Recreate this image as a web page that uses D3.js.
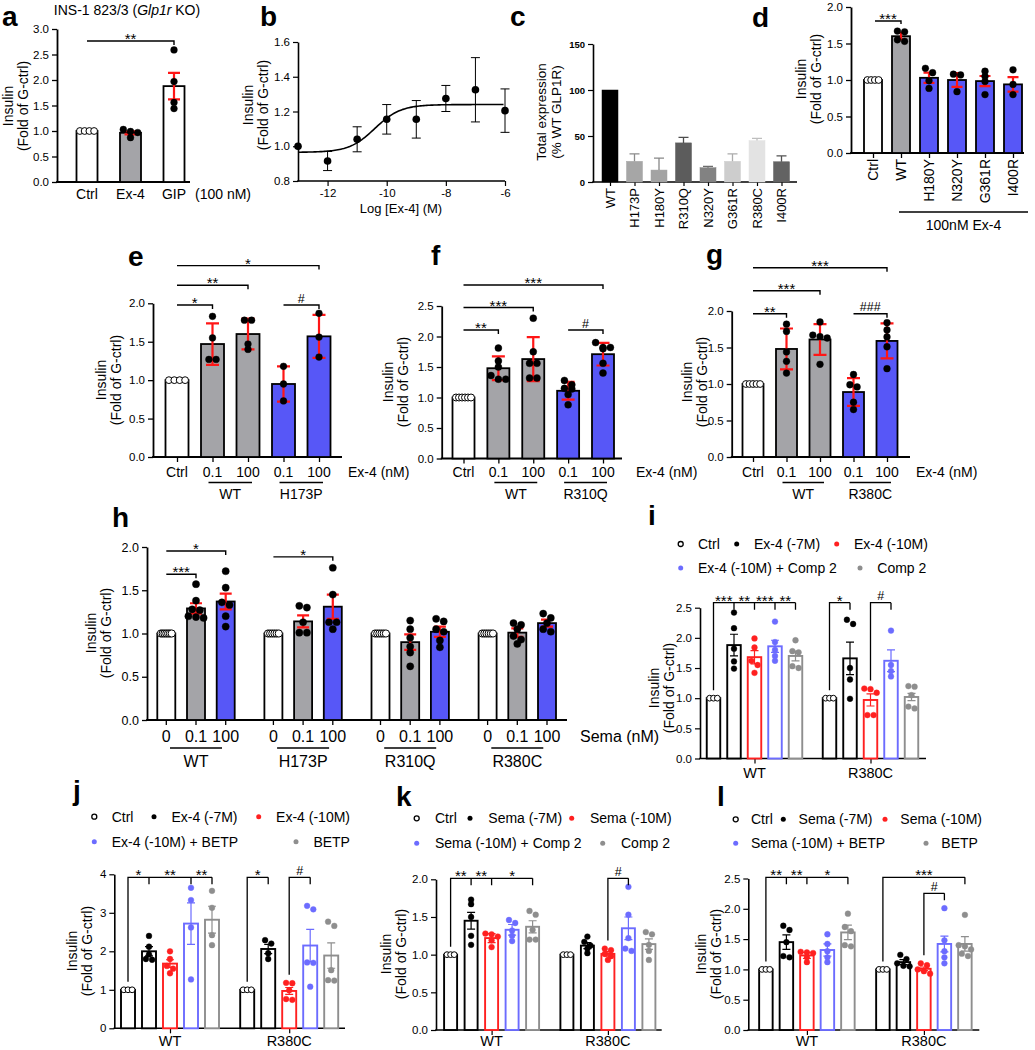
<!DOCTYPE html>
<html><head><meta charset="utf-8">
<script src="https://cdn.jsdelivr.net/npm/d3@7"></script>
<style>body{margin:0;background:#fff}</style>
</head><body><div id="chart"></div>
<script>
// ================= DATA =================
// a
const aCategories=["Ctrl","Ex-4","GIP"];
const aMeans=[1.0,0.965,1.88];
const aErr=[0,0.03,0.26];
const aPoints=[[1,1,1,1],[1.03,0.99,0.97,0.87],[2.59,1.97,1.56,1.44]];
const aSig=[[0,2,"**"]];
// b
const bLogDose=[-13,-12,-11,-10,-9,-8,-7,-6];
const bMeans=[1.0,0.915,1.04,1.155,1.155,1.275,1.325,1.205];
const bErr=[0,0.055,0.072,0.085,0.108,0.075,0.185,0.125];
const bFitBottom=0.965, bFitTop=1.24, bFitLogEC50=-10.4, bFitHill=1.0;
const bYTicks=[0.8,1.0,1.2,1.4,1.6];
const bXTicks=[-12,-10,-8,-6];
// c
const cCategories=["WT","H173P","H180Y","R310Q","N320Y","G361R","R380C","I400R"];
const cMeans=[100,22.5,13,42.5,15.5,22.5,45,22];
const cErr=[0,8,13,6,1.5,8,2.5,6.5];
const cYTicks=[0,50,100,150];
// d
const dCategories=["Ctrl","WT","H180Y","N320Y","G361R","I400R"];
const dMeans=[1.0,1.60,1.03,1.0,0.985,0.94];
const dErr=[0,0.045,0.07,0.095,0.07,0.1];
const dPoints=[[1,1,1,1],[1.67,1.66,1.55,1.53],[1.16,1.10,0.99,0.885],[1.08,1.07,0.84],[1.12,1.05,0.98,0.80],[1.14,0.94,0.80]];
const dSig=[[0,1,"***"]];
// e
const eLabels=["Ctrl","0.1","100","0.1","100"];
const eGroups=["WT","H173P"];
const eMeans=[1.0,1.47,1.60,0.95,1.57];
const eErr=[0,0.27,0.20,0.23,0.28];
const ePoints=[[1,1,1,1],[1.83,1.55,1.27,1.27],[1.78,1.78,1.47,1.40],[1.18,0.95,0.73],[1.87,1.56,1.30]];
const eSig=[[0,1,"*",0],[0,2,"**",1],[0,4,"*",2],[3,4,"#",0]];
// f
const fLabels=["Ctrl","0.1","100","0.1","100"];
const fGroups=["WT","R310Q"];
const fMeans=[1.0,1.48,1.63,1.11,1.71];
const fErr=[0,0.195,0.36,0.145,0.185];
const fPoints=[[1,1,1,1,1,1],[1.81,1.60,1.50,1.36,1.30,1.30],[2.30,1.75,1.56,1.56,1.32,1.32],[1.28,1.21,1.15,1.14,1.05,0.88],[1.90,1.82,1.82,1.80,1.56,1.40]];
const fSig=[[0,1,"**",0],[0,2,"***",1],[0,4,"***",2],[3,4,"#",0]];
// g
const gLabels=["Ctrl","0.1","100","0.1","100"];
const gGroups=["WT","R380C"];
const gMeans=[1.0,1.48,1.61,0.89,1.59];
const gErr=[0,0.28,0.21,0.19,0.24];
const gPoints=[[1,1,1,1,1],[1.82,1.72,1.44,1.31,1.15],[1.85,1.67,1.65,1.63,1.27],[1.13,0.99,0.96,0.75,0.65],[1.84,1.74,1.645,1.51,1.21]];
const gSig=[[0,1,"**",0],[0,2,"***",1],[0,4,"***",2],[3,4,"###",0]];
// h
const hGroups=["WT","H173P","R310Q","R380C"];
const hDoses=["0","0.1","100"];
const hMeans=[[1,1.29,1.37],[1,1.14,1.31],[1,0.90,1.02],[1,1.01,1.12]];
const hErr=[[0,0.06,0.09],[0,0.07,0.14],[0,0.09,0.06],[0,0.05,0.04]];
const hPoints=[
 [[1,1,1,1,1,1,1],[1.57,1.38,1.28,1.27,1.20,1.18,1.19],[1.72,1.53,1.36,1.33,1.20,1.08]],
 [[1,1,1,1,1,1],[1.32,1.30,1.13,1.01,1.01],[1.76,1.45,1.13,1.13,1.05]],
 [[1,1,1,1,1,1],[1.15,1.05,0.95,0.85,0.78,0.62],[1.17,1.14,1.05,1.02,0.92,0.84]],
 [[1,1,1,1,1,1],[1.12,1.10,1.05,0.97,0.93,0.88],[1.23,1.18,1.12,1.05,1.02]]];
const hSig=[[0,0,1,"***",0],[0,0,2,"*",1],[1,0,2,"*",0.75]];
// i
const iGroups=["WT","R380C"];
const iSeries=["Ctrl","Ex-4 (-7M)","Ex-4 (-10M)","Ex-4 (-10M) + Comp 2","Comp 2"];
const iMeans=[[1,1.88,1.68,1.86,1.70],[1,1.66,0.97,1.62,1.02]];
const iErr=[[0,0.18,0.11,0.10,0.08],[0,0.27,0.10,0.18,0.06]];
const iPoints=[
 [[1,1,1],[2.42,2.16,1.82,1.61,1.49],[1.99,1.84,1.62,1.55,1.42],[2.27,1.93,1.80,1.70,1.62],[1.96,1.78,1.76,1.53,1.50]],
 [[1,1,1],[2.30,2.23,1.50,1.31,0.99],[1.16,1.15,1.09,0.72,0.72],[2.12,1.55,1.45,1.36],[1.20,1.19,1.05,0.86,0.83]]];
const iSig=[[0,0,[1,2,3,4],["***","**","***","**"],0],[1,0,[1],["*"],0],[1,2,[3],["#"],0]];
// j
const jGroups=["WT","R380C"];
const jSeries=["Ctrl","Ex-4 (-7M)","Ex-4 (-10M)","Ex-4 (-10M) + BETP","BETP"];
const jMeans=[[1,2.0,1.68,2.72,2.82],[1,2.06,0.97,2.15,1.89]];
const jErr=[[0,0.12,0.10,0.54,0.35],[0,0.12,0.09,0.42,0.33]];
const jPoints=[
 [[1,1,1],[2.40,2.12,1.92,1.80,1.78],[2.0,1.80,1.62,1.55,1.43],[3.65,3.33,2.62,1.27],[3.57,3.13,2.42,2.16]],
 [[1,1,1],[2.29,2.20,1.95,1.80],[1.18,1.17,0.99,0.76,0.74],[3.18,3.09,1.71,1.70,1.08],[2.77,2.66,1.51,1.25,1.24]]];
const jSig=[[0,0,[1,3,4],["*","**","**"],0],[1,0,[1],["*"],0],[1,2,[3],["#"],0]];
// k
const kGroups=["WT","R380C"];
const kSeries=["Ctrl","Sema (-7M)","Sema (-10M)","Sema (-10M) + Comp 2","Comp 2"];
const kMeans=[[1,1.45,1.22,1.33,1.37],[1,1.12,1.01,1.35,1.14]];
const kErr=[[0,0.11,0.06,0.07,0.08],[0,0.04,0.03,0.15,0.07]];
const kPoints=[
 [[1,1,1],[1.73,1.67,1.50,1.25,1.13],[1.28,1.27,1.24,1.19,1.10],[1.46,1.42,1.32,1.25,1.18],[1.58,1.53,1.33,1.20,1.20]],
 [[1,1,1],[1.24,1.17,1.12,1.08,1.02],[1.08,1.06,1.01,0.98,0.93],[1.90,1.53,1.22,1.08,1.05],[1.30,1.27,1.13,1.05,0.93]]];
const kSig=[[0,0,[1,2,4],["**","**","*"],0],[1,2,[3],["#"],0]];
// l
const lGroups=["WT","R380C"];
const lSeries=["Ctrl","Sema (-7M)","Sema (-10M)","Sema (-10M) + BETP","BETP"];
const lMeans=[[1,1.45,1.23,1.32,1.61],[1,1.12,1.01,1.42,1.42]];
const lErr=[[0,0.12,0.05,0.10,0.12],[0,0.04,0.03,0.13,0.12]];
const lPoints=[
 [[1,1,1],[1.72,1.65,1.45,1.22,1.20],[1.29,1.28,1.27,1.20,1.12],[1.58,1.42,1.30,1.20,1.12],[1.92,1.70,1.63,1.40,1.38]],
 [[1,1,1],[1.24,1.17,1.10,1.06,1.05],[1.10,1.07,1.00,0.97,0.93],[2.01,1.48,1.30,1.20,1.10],[1.90,1.40,1.38,1.33,1.26,1.22]]];
const lSig=[[0,0,[1,2,4],["**","**","*"],0],[1,0,[4],["***"],0],[1,2,[3],["#"],-1]];

// ================= STYLE / HELPERS =================
const FONT="Arial, 'Liberation Sans', Helvetica, sans-serif";
const RED='#ff1616', BLUE='#5757f7', GREY='#a4a4a8';
const SER=['#000000','#000000','#ff2020','#6c6cff','#8e8e8e'];
const svg=d3.select('#chart').append('svg').attr('width',1035).attr('height',1050);
svg.append('rect').attr('width',1035).attr('height',1050).attr('fill','#fff');

function txt(g,x,y,s,o={}){
  const t=g.append('text').attr('x',x).attr('y',y).text(s)
    .attr('font-family',FONT).attr('font-size',o.size||14)
    .attr('text-anchor',o.anchor||'middle').attr('fill',o.fill||'#000');
  if(o.weight) t.attr('font-weight',o.weight);
  if(o.dy) t.attr('dy',o.dy);
  if(o.rotate!=null) t.attr('transform',`rotate(${o.rotate},${x},${y})`);
  return t;
}
function letter(x,y,s){ txt(svg,x,y,s,{size:28,weight:'bold',anchor:'start'}); }
function yLabel(g,x1,x2,cy,l1,l2,size){
  txt(g,x1,cy,l1,{size:size||14,rotate:-90});
  txt(g,x2,cy,l2,{size:size||14,rotate:-90});
}
function yAxis(g,y,x0,ticks,fmt,o={}){
  const ax=g.append('g').attr('transform',`translate(${x0},0)`)
    .call(d3.axisLeft(y).tickValues(ticks).tickFormat(fmt).tickSize(o.tl||5).tickSizeOuter(0).tickPadding(o.pad||3));
  ax.attr('font-family',FONT).attr('font-size',o.size||11.5);
  if(o.bold) ax.attr('font-weight','bold');
  ax.select('.domain').attr('stroke','#000').attr('stroke-width',o.sw||1.8);
  ax.selectAll('.tick line').attr('stroke','#000').attr('stroke-width',o.tw||1.3);
  ax.selectAll('.tick text').attr('fill','#000');
  return ax;
}
function xLine(g,x0,x1,yy,sw){
  g.append('line').attr('x1',x0-(sw||1.8)/2).attr('x2',x1).attr('y1',yy).attr('y2',yy)
    .attr('stroke','#000').attr('stroke-width',sw||1.8);
}
function xTicks(g,scale,yy,len,sw,vals){
  const axis=d3.axisBottom(scale).tickSize(len).tickFormat('').tickSizeOuter(0);
  if(vals) axis.tickValues(vals);
  const ax=g.append('g').attr('transform',`translate(0,${yy})`).call(axis);
  ax.select('.domain').remove();
  ax.selectAll('.tick line').attr('stroke','#000').attr('stroke-width',sw||1.3);
}
function swarm(vals,y,r,bw,open){
  const s=vals.map(v=>v).sort((a,b)=>b-a);
  const cl=[];
  s.forEach(v=>{const py=y(v);const c=cl[cl.length-1];
    if(c && Math.abs(py-c.y0)<r*1.5) c.p.push(v); else cl.push({y0:py,p:[v]});});
  const out=[];
  cl.forEach(c=>{const k=c.p.length;let sp=2*r+0.4;
    if(open&&k>1) sp=Math.min(2*r*0.85,(bw-2*r)/(k-1));
    c.p.forEach((v,j)=>out.push({v,dx:(j-(k-1)/2)*sp}));});
  return out;
}
function barSet(g,items,y,o){
  items.forEach(it=>{
    g.append('rect').attr('x',it.cx-o.bw/2).attr('y',y(it.mean)).attr('width',o.bw)
      .attr('height',y(0)-y(it.mean)).attr('fill',it.fill).attr('stroke',it.stroke).attr('stroke-width',o.sw);
  });
  items.forEach(it=>{
    if(!it.err) return;
    const yt=y(it.mean+it.err), yb=o.upOnly?y(it.mean):y(it.mean-it.err), h=o.cap/2;
    let d=`M${it.cx},${yt}V${yb}M${it.cx-h},${yt}H${it.cx+h}`;
    if(!o.upOnly) d+=`M${it.cx-h},${yb}H${it.cx+h}`;
    g.append('path').attr('d',d).attr('stroke',it.errColor).attr('stroke-width',o.ew).attr('fill','none');
  });
  items.forEach(it=>{
    if(!it.pts) return;
    swarm(it.pts,y,o.r,o.bw,it.open).forEach(p=>{
      g.append('circle').attr('cx',it.cx+p.dx).attr('cy',y(p.v)).attr('r',o.r)
        .attr('fill',it.open?'#fff':it.ptColor).attr('stroke',it.open?'#000':it.ptColor)
        .attr('stroke-width',it.open?1:0.4);
    });
  });
}
function sigLabel(g,x,yl,label){
  const star=label.indexOf('*')>=0;
  txt(g,x,star?yl+3:yl-2.5,label,{size:star?15:12.5});
}
function sigA(g,x1,x2,yl,label,tick){
  g.append('path').attr('d',`M${x1},${yl}H${x2}V${yl+(tick||4)}`).attr('fill','none')
    .attr('stroke','#000').attr('stroke-width',1.4);
  sigLabel(g,(x1+x2)/2,yl,label);
}
function maxVal(it){ return Math.max(it.mean+(it.err||0), d3.max(it.pts||[it.mean])); }
function sigB(g,y,yl,from,tos,labels){
  const yEnd=y(maxVal(from))-8;
  let d=`M${from.cx},${yEnd}V${yl}H${tos[tos.length-1].cx}`;
  tos.forEach(t=>{ d+=`M${t.cx},${yl}V${yl+7}`; });
  g.append('path').attr('d',d).attr('fill','none').attr('stroke','#000').attr('stroke-width',1.3);
  const xs=[from.cx].concat(tos.map(t=>t.cx));
  labels.forEach((lb,i)=>sigLabel(g,(xs[i]+xs[i+1])/2,yl,lb));
}

// ================= PANEL a =================
{
  const g=svg.append('g');
  const y=d3.scaleLinear().domain([0,3]).range([182,29]);
  const x=d3.scalePoint().domain(aCategories).range([87,174]);
  yAxis(g,y,57,[0,0.5,1,1.5,2,2.5,3],d3.format('.1f'),{size:11.5});
  xLine(g,57,190,y(0));
  const items=aCategories.map((c,i)=>({cx:x(c),mean:aMeans[i],err:aErr[i],pts:aPoints[i],
    fill:i===1?GREY:'#fff',stroke:'#000',open:i===0,ptColor:'#000',errColor:RED}));
  barSet(g,items,y,{bw:21,sw:1.8,r:3.4,cap:12,ew:2.2});
  aCategories.forEach(c=>txt(g,x(c),199,c,{size:14}));
  txt(g,223,199,"(100 nM)",{size:14});
  aSig.forEach(s=>sigA(g,x(aCategories[s[0]]),x(aCategories[s[1]]),41,s[2],4));
  const t=g.append('text').attr('x',127).attr('y',15).attr('text-anchor','middle')
    .attr('font-family',FONT).attr('font-size',14);
  t.append('tspan').text('INS-1 823/3 (');
  t.append('tspan').attr('font-style','italic').text('Glp1r');
  t.append('tspan').text(' KO)');
  yLabel(g,13,28,106,"Insulin","(Fold of G-ctrl)");
  letter(2,26,'a');
}
// ================= PANEL b =================
{
  const g=svg.append('g');
  const y=d3.scaleLinear().domain([0.8,1.6]).range([181,42]);
  const x=d3.scaleLinear().domain([-13,-6]).range([298,505]);
  yAxis(g,y,298,bYTicks,d3.format('.1f'),{size:11.5,sw:1.6,tw:1.2});
  xLine(g,298,505,181,1.6);
  const ax=g.append('g').attr('transform','translate(0,181)')
    .call(d3.axisBottom(x).tickValues(bXTicks).tickFormat(d=>String(d)).tickSize(5).tickPadding(3));
  ax.attr('font-family',FONT).attr('font-size',11.5);
  ax.select('.domain').remove();
  ax.selectAll('.tick line').attr('stroke','#000').attr('stroke-width',1.2);
  ax.selectAll('.tick text').attr('fill','#000');
  const fit=v=>bFitBottom+(bFitTop-bFitBottom)/(1+Math.pow(10,(bFitLogEC50-v)*bFitHill));
  const xs=d3.range(-13,-6.0001,0.05);
  g.append('path').datum(xs).attr('d',d3.line().x(v=>x(v)).y(v=>y(fit(v))))
    .attr('fill','none').attr('stroke','#000').attr('stroke-width',1.6);
  bLogDose.forEach((v,i)=>{
    if(bErr[i]>0){
      const yt=y(bMeans[i]+bErr[i]), yb=y(bMeans[i]-bErr[i]), cx=x(v);
      g.append('path').attr('d',`M${cx},${yt}V${yb}M${cx-4.5},${yt}H${cx+4.5}M${cx-4.5},${yb}H${cx+4.5}`)
        .attr('stroke','#000').attr('stroke-width',1).attr('fill','none');
    }
  });
  g.selectAll(null).data(bLogDose).join('circle').attr('cx',v=>x(v)).attr('cy',(v,i)=>y(bMeans[i]))
    .attr('r',3.8).attr('fill','#000');
  txt(g,401,213,"Log [Ex-4] (M)",{size:13});
  yLabel(g,253,268,105,"Insulin","(Fold of G-ctrl)");
  letter(260,26,'b');
}
// ================= PANEL c =================
{
  const g=svg.append('g');
  const y=d3.scaleLinear().domain([0,150]).range([182,44]);
  const x=d3.scalePoint().domain(cCategories).range([610,781.5]);
  const cFill=["#000000","#a6a6a6","#a3a3a3","#5c5c5c","#828282","#cdcdcd","#e3e3e3","#636363"];
  yAxis(g,y,593,cYTicks,d3.format('d'),{size:9.5,bold:true,sw:1.6,tw:1.2});
  xLine(g,593,797,y(0),1.6);
  xTicks(g,x,y(0),4,1.2);
  const items=cCategories.map((c,i)=>({cx:x(c),mean:cMeans[i],err:cErr[i],fill:cFill[i],stroke:cFill[i],
    errColor:d3.color(cFill[i]).darker(0.5).formatHex()}));
  barSet(g,items,y,{bw:16,sw:0.5,r:3,cap:10,ew:1.3,upOnly:true});
  cCategories.forEach(c=>txt(g,x(c),188,c,{size:13,anchor:'end',rotate:-90,dy:'0.35em'}));
  yLabel(g,546,561,112,"Total expression","(% WT GLP1R)",13.5);
  letter(510,26,'c');
}
// ================= PANEL d =================
{
  const g=svg.append('g');
  const y=d3.scaleLinear().domain([0,2]).range([153,7]);
  const x=d3.scalePoint().domain(dCategories).range([873,1013]);
  yAxis(g,y,851,[0,0.5,1,1.5,2],d3.format('.1f'),{size:11.5});
  xLine(g,851,1024,y(0));
  xTicks(g,x,y(0),5,1.3);
  const items=dCategories.map((c,i)=>({cx:x(c),mean:dMeans[i],err:dErr[i],pts:dPoints[i],
    fill:i===0?'#fff':(i===1?GREY:BLUE),stroke:'#000',open:i===0,ptColor:'#000',errColor:RED}));
  barSet(g,items,y,{bw:18,sw:1.8,r:3.4,cap:11,ew:2.2});
  dCategories.forEach(c=>txt(g,x(c),159,c,{size:14,anchor:'end',rotate:-90,dy:'0.35em'}));
  g.append('line').attr('x1',899).attr('x2',1028).attr('y1',212).attr('y2',212).attr('stroke','#000').attr('stroke-width',1.5);
  txt(g,963.5,230,"100nM Ex-4",{size:14});
  dSig.forEach(s=>sigA(g,x(dCategories[s[0]])+2,x(dCategories[s[1]]),21,s[2],3));
  yLabel(g,806,821,79,"Insulin","(Fold of G-ctrl)");
  letter(752,27,'d');
}
// ================= PANELS e,f,g =================
function efgPanel(o){
  const g=svg.append('g');
  const y=d3.scaleLinear().domain([0,o.ymax]).range([o.y0,o.ytop]);
  const x=d3.scalePoint().domain(d3.range(o.labels.length)).range(o.cr);
  yAxis(g,y,o.ax,d3.range(0,o.ymax+0.001,0.5),d3.format('.1f'),{size:11.5});
  xLine(g,o.ax,o.axEnd,y(0));
  xTicks(g,x,y(0),5,1.3);
  const fills=['#fff',GREY,GREY,BLUE,BLUE];
  const items=o.labels.map((c,i)=>({cx:x(i),mean:o.means[i],err:o.err[i],pts:o.pts[i],
    fill:fills[i],stroke:'#000',open:i===0,ptColor:'#000',errColor:RED}));
  barSet(g,items,y,{bw:o.bw,sw:1.8,r:o.r,cap:13,ew:2.2});
  o.labels.forEach((c,i)=>txt(g,x(i),477,c,{size:14}));
  o.groups.forEach((gn,k)=>{
    const c1=x(1+2*k), c2=x(2+2*k);
    g.append('line').attr('x1',c1-4).attr('x2',c2+4).attr('y1',482.5).attr('y2',482.5).attr('stroke','#000').attr('stroke-width',1.5);
    txt(g,(c1+c2)/2,498.5,gn,{size:14});
  });
  txt(g,o.unitX,477,"Ex-4 (nM)",{size:14,anchor:'start'});
  o.sig.forEach(s=>sigA(g,x(s[0]),x(s[1]),o.sigBase-s[3]*o.sigStep,s[2],4));
  yLabel(g,o.yl1,o.yl1+15,o.ylc,"Insulin","(Fold of G-ctrl)");
  letter(o.lx,o.ly,o.letter);
}
efgPanel({labels:eLabels,groups:eGroups,means:eMeans,err:eErr,pts:ePoints,sig:eSig,ymax:2,y0:457,ytop:303.3,
  cr:[177,319],ax:153,axEnd:342,bw:23,r:3.4,unitX:348,sigBase:305,sigStep:19.7,yl1:106,ylc:380,lx:128,ly:266,letter:'e'});
efgPanel({labels:fLabels,groups:fGroups,means:fMeans,err:fErr,pts:fPoints,sig:fSig,ymax:2.5,y0:458.5,ytop:306,
  cr:[463.5,603],ax:441.7,axEnd:622,bw:22,r:3.5,unitX:636,sigBase:330,sigStep:22.5,yl1:393,ylc:382,lx:431,ly:265,letter:'f'});
efgPanel({labels:gLabels,groups:gGroups,means:gMeans,err:gErr,pts:gPoints,sig:gSig,ymax:2,y0:457,ytop:311,
  cr:[753,887],ax:731.7,axEnd:910,bw:21,r:3.4,unitX:916,sigBase:313.7,sigStep:23,yl1:692,ylc:382,lx:706,ly:264,letter:'g'});

// ================= PANEL h =================
{
  const g=svg.append('g');
  const y=d3.scaleLinear().domain([0,2]).range([720,547]);
  const xg=d3.scalePoint().domain(hGroups).range([196,517.3]);
  const xi=d3.scalePoint().domain(d3.range(hDoses.length)).range([-29.7,29.7]);
  yAxis(g,y,147,[0,0.5,1,1.5,2],d3.format('.1f'),{size:12.5});
  xLine(g,147,567,y(0));
  const fills=['#fff',GREY,BLUE];
  const items=[];
  hGroups.forEach((gn,gi)=>hDoses.forEach((dn,s)=>items.push({gi,s,cx:xg(gn)+xi(s),mean:hMeans[gi][s],err:hErr[gi][s],
    pts:hPoints[gi][s],fill:fills[s],stroke:'#000',open:s===0,ptColor:'#000',errColor:RED})));
  g.append('g').attr('transform',`translate(0,${y(0)})`).selectAll('line').data(items).join('line')
    .attr('x1',d=>d.cx).attr('x2',d=>d.cx).attr('y1',0).attr('y2',5).attr('stroke','#000').attr('stroke-width',1.3);
  barSet(g,items,y,{bw:18,sw:1.8,r:3.6,cap:12,ew:2.2});
  items.forEach(it=>txt(g,it.cx,742,hDoses[it.s],{size:16}));
  hGroups.forEach(gn=>{
    const c=xg(gn);
    g.append('line').attr('x1',c-26).attr('x2',c+26).attr('y1',748).attr('y2',748).attr('stroke','#000').attr('stroke-width',1.5);
    txt(g,c,766.5,gn,{size:16});
  });
  txt(g,580,742,"Sema (nM)",{size:16,anchor:'start'});
  hSig.forEach(s=>{
    const a=items.find(it=>it.gi===s[0]&&it.s===s[1]), b=items.find(it=>it.gi===s[0]&&it.s===s[2]);
    sigA(g,a.cx,b.cx,574.3-s[4]*23.3,s[3],4);
  });
  yLabel(g,96,111,633,"Insulin","(Fold of G-ctrl)");
  letter(112,527,'h');
}
// ================= PANELS i,j,k,l =================
function ijklPanel(o){
  const g=svg.append('g');
  const y=d3.scaleLinear().domain([0,o.ymax]).range([o.y0,o.ytop]);
  const xg=d3.scalePoint().domain(o.groups).range(o.gr);
  const xi=d3.scalePoint().domain(d3.range(o.series.length)).range([-o.half,o.half]);
  yAxis(g,y,o.ax,o.yticks,o.fmt,{size:11.5,sw:1.6,tw:1.2});
  xLine(g,o.ax,o.axEnd,y(0),1.6);
  xTicks(g,xg,y(0),5,1.2);
  const items=[];
  o.groups.forEach((gn,gi)=>o.series.forEach((sn,s)=>items.push({gi,s,cx:xg(gn)+xi(s),mean:o.means[gi][s],err:o.err[gi][s],
    pts:o.pts[gi][s],fill:'#fff',stroke:SER[s],open:s===0,ptColor:SER[s],errColor:SER[s]})));
  barSet(g,items,y,{bw:o.bw,sw:1.9,r:2.9,cap:8,ew:1.2});
  o.groups.forEach(gn=>txt(g,xg(gn),o.glY,gn,{size:14.5}));
  o.sig.forEach(s=>{
    const from=items.find(it=>it.gi===s[0]&&it.s===s[1]);
    const tos=s[2].map(t=>items.find(it=>it.gi===s[0]&&it.s===t));
    sigB(g,y,o.sigY-s[4]*16,from,tos,s[3]);
  });
  let k=0;
  o.legRows.forEach(([yy,xs])=>xs.forEach(xx=>{
    const i=k++;
    g.append('circle').attr('cx',xx).attr('cy',yy).attr('r',2.5)
      .attr('fill',i===0?'#fff':SER[i]).attr('stroke',i===0?'#000':SER[i]).attr('stroke-width',i===0?1.3:0);
    txt(g,xx+o.legOff,yy+5,o.series[i],{size:14,anchor:'start'});
  }));
  yLabel(g,o.yl1,o.yl1+15,o.ylc,"Insulin","(Fold of G-ctrl)");
  letter(o.lx,o.ly,o.letter);
}
ijklPanel({groups:iGroups,series:iSeries,means:iMeans,err:iErr,pts:iPoints,sig:iSig,ymax:2.5,y0:758.5,ytop:607.7,
  yticks:[0,0.5,1,1.5,2,2.5],fmt:d3.format('.1f'),gr:[754.5,870.5],half:41,ax:700,axEnd:926,bw:13.5,glY:778,sigY:602.7,
  legRows:[[544,[680.7,736.7,836.7]],[568,[680.7,860]]],legOff:17.3,yl1:659,ylc:688,lx:648,ly:525,letter:'i'});
ijklPanel({groups:jGroups,series:jSeries,means:jMeans,err:jErr,pts:jPoints,sig:jSig,ymax:4,y0:1028.3,ytop:874.3,
  yticks:[0,1,2,3,4],fmt:d3.format('d'),gr:[170,289.2],half:42,ax:114.3,axEnd:345,bw:14,glY:1046,sigY:877.3,
  legRows:[[816.7,[94.3,154,258.7]],[841.7,[94.3,296]]],legOff:17.4,yl1:77,ylc:951,lx:73,ly:800,letter:'j'});
ijklPanel({groups:kGroups,series:kSeries,means:kMeans,err:kErr,pts:kPoints,sig:kSig,ymax:2,y0:1030,ytop:879.3,
  yticks:[0,0.5,1,1.5,2],fmt:d3.format('.1f'),gr:[491.6,607.9],half:41,ax:436,axEnd:661.7,bw:13,glY:1046,sigY:878.3,
  legRows:[[818.3,[416.7,470,571.7]],[843.3,[416.7,602.7]]],legOff:18.3,yl1:391,ylc:954,lx:396,ly:806,letter:'k'});
ijklPanel({groups:lGroups,series:lSeries,means:lMeans,err:lErr,pts:lPoints,sig:lSig,ymax:2.5,y0:1030,ytop:878.5,
  yticks:[0,0.5,1,1.5,2,2.5],fmt:d3.format('.1f'),gr:[806.9,923.9],half:41,ax:748.3,axEnd:979.3,bw:13.5,glY:1046,sigY:877.3,
  legRows:[[819.3,[735.7,783.3,885]],[843.3,[735.7,926]]],legOff:15.3,yl1:706,ylc:954,lx:717,ly:806,letter:'l'});
</script>
</body></html>
